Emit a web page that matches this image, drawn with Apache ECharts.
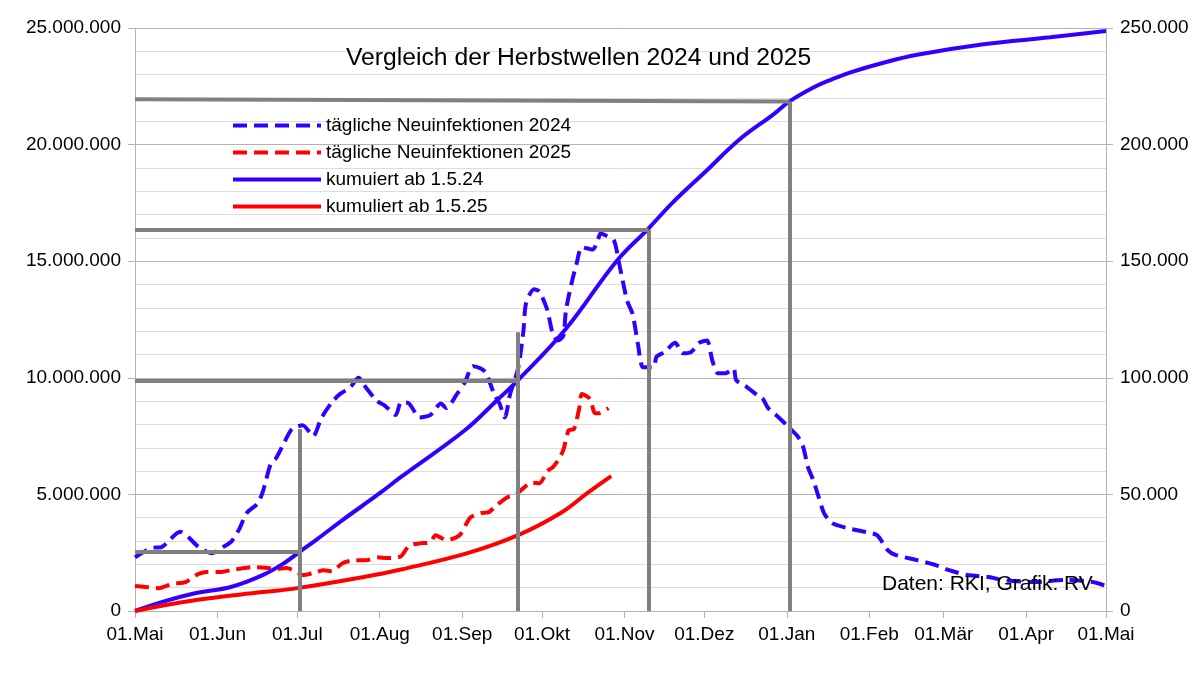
<!DOCTYPE html>
<html>
<head>
<meta charset="utf-8">
<title>Herbstwellen 2024 / 2025</title>
<script src="https://cdn.jsdelivr.net/npm/echarts@6/dist/echarts.min.js"></script>
<style>
  html, body { margin: 0; padding: 0; background: #fff; }
  #main { width: 1200px; height: 675px; }
</style>
</head>
<body>
<div id="main"></div>
<script type="text/javascript">
// x = Tage seit 01.05.
var monthTicks = [0, 31, 61, 92, 123, 153, 184, 214, 245, 276, 304, 335, 365];
var monthLabels = ['01.Mai', '01.Jun', '01.Jul', '01.Aug', '01.Sep', '01.Okt', '01.Nov',
                   '01.Dez', '01.Jan', '01.Feb', '01.Mär', '01.Apr', '01.Mai'];

// tägliche Neuinfektionen 2024 (Tag, Wert)
var daily2024 = [
  [0, 23000], [6, 27000], [10, 27400], [17, 34000], [20, 31700], [24, 27400], [29, 24800],
  [33, 27400], [36, 29500], [39, 34700], [42, 42000], [46, 46000], [48, 51000], [51, 63000],
  [53, 65500], [56, 72000], [59, 78000], [63, 79600], [67, 75000], [70, 82600], [74, 89500],
  [77, 93000], [81, 96000], [84, 100000], [87, 95500], [91, 90000], [94, 88000], [98, 84000],
  [100, 89500], [103, 89000], [107, 83000], [111, 84000], [115, 89000], [117, 87000],
  [121, 93000], [124, 98000], [127, 105000], [130, 104000], [132, 102000], [135, 93000],
  [137, 89000], [139, 83000], [141, 93000], [144, 104000], [146, 120000], [147, 132000],
  [150, 138000], [152, 137000], [155, 129000], [157, 119000], [159, 116000], [161, 118000],
  [162, 129000], [164, 140000], [166, 149000], [168, 156000], [172, 155000], [174, 159000],
  [175, 162000], [177, 161000], [180, 159000], [182, 149000], [185, 133000], [187, 127500],
  [189, 115000], [191, 104500], [195, 104500], [196, 109000], [199, 111000], [203, 115000],
  [206, 110500], [209, 111000], [212, 115000], [215, 116000], [217, 107500], [219, 102000],
  [222, 102000], [225, 104000], [226, 99000], [230, 96000], [234, 92500], [236, 91000],
  [238, 87000], [242, 83000], [245, 79600], [249, 75000], [251, 71000], [253, 61600],
  [255, 56000], [257, 48800], [259, 42000], [262, 37700], [268, 35500], [275, 33800],
  [279, 32500], [283, 26000], [286, 24000], [294, 21800], [301, 19700], [306, 17500],
  [313, 15400], [321, 14600], [326, 13300], [338, 12400], [350, 13300], [360, 12400],
  [365, 10700]
];

// tägliche Neuinfektionen 2025
var daily2025 = [
  [0, 10700], [4, 10300], [9, 9800], [14, 11600], [19, 12400], [23, 15400], [27, 16700],
  [32, 16700], [36, 17500], [41, 18400], [44, 18800], [50, 18400], [53, 18000], [57, 18400],
  [61, 16700], [63, 15400], [67, 16300], [71, 17500], [74, 17000], [78, 20500], [83, 21800],
  [87, 21800], [91, 23000], [95, 22700], [100, 23500], [103, 28000], [107, 29000],
  [111, 29500], [113, 32500], [117, 30400], [122, 32500], [126, 40000], [130, 42000],
  [133, 42400], [136, 45400], [140, 48800], [143, 49700], [146, 52700], [149, 55000],
  [152, 54800], [155, 60000], [157, 61600], [159, 64600], [161, 69000], [163, 77500],
  [165, 78000], [167, 87000], [168, 93000], [171, 91000], [173, 84800], [175, 85000],
  [178, 87000]
];

// kumuliert ab 1.5.24
var cum2024 = [
  [0, 0], [10, 380000], [23, 770000], [36, 1030000], [48, 1540000], [56, 2050000],
  [62, 2550000], [68, 3040000], [78, 3900000], [92, 5050000], [100, 5750000],
  [124, 7750000], [136, 9030000], [144, 9900000], [162, 12100000], [181, 15000000],
  [193, 16400000], [202, 17500000], [215, 18900000], [227, 20200000], [240, 21300000],
  [246, 21850000], [255, 22450000], [262, 22800000], [269, 23100000], [281, 23500000],
  [294, 23850000], [319, 24300000], [344, 24600000], [365, 24870000]
];

// kumuliert ab 1.5.25
var cum2025 = [
  [0, 0], [23, 470000], [48, 810000], [61, 980000], [86, 1460000], [100, 1780000],
  [125, 2480000], [144, 3250000], [160, 4200000], [170, 5050000], [179, 5780000]
];

// graue Markierungslinien: [Tag, waagrecht links, waagrecht rechts, senkrecht oben]
var marks = [
  [62, 2550000, 2550000, 7800000],
  [144, 9890000, 9890000, 11950000],
  [193, 16350000, 16350000, 16350000],
  [246, 21950000, 21850000, 21850000]
];

var seriesNames = ['tägliche Neuinfektionen 2024', 'tägliche Neuinfektionen 2025',
                   'kumuiert ab 1.5.24', 'kumuliert ab 1.5.25'];

function dots(v) {
  return String(Math.round(v)).replace(/\B(?=(\d{3})+(?!\d))/g, '.');
}

var markData = [];
marks.forEach(function (m) {
  markData.push([{ coord: [0, m[1]] }, { coord: [m[0], m[2]] }]);
  markData.push([{ coord: [m[0], 0] }, { coord: [m[0], m[3]] }]);
});

var FONT = '"Liberation Sans", Arial, sans-serif';
var BLUE = '#3300ff';
var RED = '#ff0000';

var chart = echarts.init(document.getElementById('main'));
chart.setOption({
  animation: false,
  backgroundColor: '#ffffff',
  textStyle: { fontFamily: FONT, color: '#000' },
  title: {
    text: 'Vergleich der Herbstwellen 2024 und 2025',
    left: 341,
    top: 41,
    textStyle: { fontFamily: FONT, fontSize: 24.7, fontWeight: 'normal', color: '#000' }
  },
  legend: {
    data: seriesNames,
    orient: 'vertical',
    left: 226,
    top: 111,
    itemWidth: 88,
    itemHeight: 14,
    itemGap: 8,
    itemStyle: { opacity: 0 },
    lineStyle: { width: 4 },
    textStyle: { fontFamily: FONT, fontSize: 19, color: '#000' }
  },
  graphic: [{
    type: 'text',
    left: 882,
    top: 574,
    z: 100,
    style: { text: 'Daten: RKI, Grafik: RV', font: '21px ' + FONT, fill: '#000' }
  }],
  grid: { left: 135, right: 94, top: 28, bottom: 64 },
  xAxis: {
    type: 'value',
    min: 0,
    max: 365,
    axisLine: { lineStyle: { color: '#b3b3b3', width: 1 } },
    axisTick: { show: true, customValues: monthTicks, length: 7, lineStyle: { color: '#b3b3b3' } },
    axisLabel: {
      customValues: monthTicks,
      margin: 14,
      fontSize: 19,
      fontFamily: FONT,
      color: '#000',
      formatter: function (v) { return monthLabels[monthTicks.indexOf(v)]; }
    },
    splitLine: { show: false }
  },
  yAxis: [{
    type: 'value',
    min: 0,
    max: 25000000,
    interval: 5000000,
    axisLine: { show: true, lineStyle: { color: '#b3b3b3' } },
    axisTick: { show: true, length: 7, lineStyle: { color: '#b3b3b3' } },
    axisLabel: { fontSize: 19, fontFamily: FONT, color: '#000', margin: 14, formatter: dots },
    splitLine: { show: true, lineStyle: { color: '#b3b3b3', width: 1 } },
    minorTick: { show: false, splitNumber: 5 },
    minorSplitLine: { show: true, lineStyle: { color: '#dddddd', width: 1 } }
  }, {
    type: 'value',
    min: 0,
    max: 250000,
    interval: 50000,
    position: 'right',
    axisLine: { show: true, lineStyle: { color: '#b3b3b3' } },
    axisTick: { show: true, length: 7, lineStyle: { color: '#b3b3b3' } },
    axisLabel: { fontSize: 19, fontFamily: FONT, color: '#000', margin: 14, formatter: dots },
    splitLine: { show: false }
  }],
  series: [{
    name: seriesNames[0],
    type: 'line',
    yAxisIndex: 1,
    data: daily2024,
    symbol: 'none',
    smooth: 0.25,
    z: 3,
    lineStyle: { color: BLUE, width: 4, type: [14, 7] },
    itemStyle: { color: BLUE }
  }, {
    name: seriesNames[1],
    type: 'line',
    yAxisIndex: 1,
    data: daily2025,
    symbol: 'none',
    smooth: 0.25,
    z: 3,
    lineStyle: { color: RED, width: 4, type: [14, 7] },
    itemStyle: { color: RED }
  }, {
    name: seriesNames[2],
    type: 'line',
    yAxisIndex: 0,
    data: cum2024,
    symbol: 'none',
    smooth: 0.4,
    z: 3,
    lineStyle: { color: BLUE, width: 4 },
    itemStyle: { color: BLUE },
    markLine: {
      silent: true,
      symbol: ['none', 'none'],
      label: { show: false },
      lineStyle: { color: '#808080', width: 4, type: 'solid' },
      emphasis: { disabled: true },
      data: markData
    }
  }, {
    name: seriesNames[3],
    type: 'line',
    yAxisIndex: 0,
    data: cum2025,
    symbol: 'none',
    smooth: 0.4,
    z: 3,
    lineStyle: { color: RED, width: 4 },
    itemStyle: { color: RED }
  }]
});
</script>
</body>
</html>
